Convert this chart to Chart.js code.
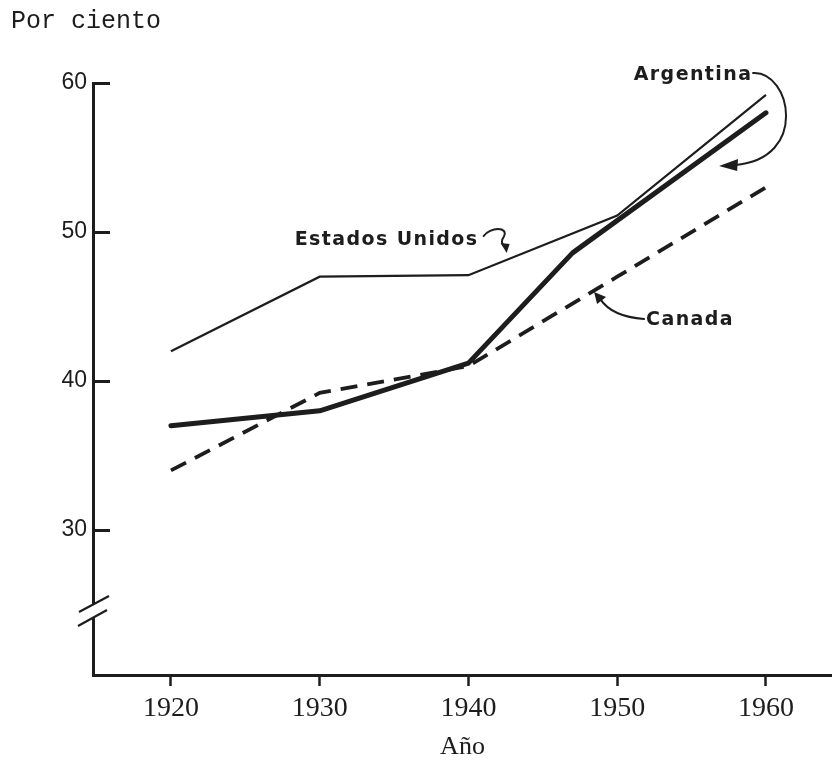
<!DOCTYPE html>
<html>
<head>
<meta charset="utf-8">
<script src="https://cdn.jsdelivr.net/npm/chart.js@4.4.1/dist/chart.umd.min.js"></script>
<style>
    body { margin: 0; background: #ffffff; }
    #chart-wrap { width: 832px; height: 764px; }
</style>
</head>
<body>
<div id="chart-wrap"><canvas id="urban-chart" width="832" height="764"></canvas></div>
<script>
// datos
const years = [1920, 1930, 1940, 1950, 1960];
const usValues = [42, 47, 47.1, 51.1, 59.2];
const canadaValues = [34, 39.2, 41, 47, 53];
const argentinaYears = [1920, 1930, 1940, 1947, 1960];
const argentinaValues = [37, 38, 41.2, 48.6, 58];
const xTicks = [1920, 1930, 1940, 1950, 1960];
const yTicks = [30, 40, 50, 60];

const vInk = '#1d1d1d';

function toPoints(paramX, paramY) {
    return paramX.map((x, i) => ({ x: x, y: paramY[i] }));
}

// flechas, rotulos y corte del eje
const decorPlugin = {
    id: 'decor',
    afterDraw(chart) {
        const ctx = chart.ctx;
        const xs = chart.scales.x;
        const ys = chart.scales.y;
        const px = (year, value) => [xs.getPixelForValue(year), ys.getPixelForValue(value)];

        ctx.save();
        ctx.fillStyle = vInk;
        ctx.strokeStyle = vInk;

        // titulo eje y
        ctx.font = '25px "Liberation Mono"';
        ctx.textAlign = 'left';
        ctx.textBaseline = 'alphabetic';
        ctx.fillText('Por ciento', 11, 28);

        // rotulos de las series
        ctx.font = 'bold 19px "DejaVu Sans"';
        ctx.letterSpacing = '1.4px';
        ctx.textAlign = 'center';
        ctx.textBaseline = 'middle';
        let a = px(1955.1, 60.54);
        ctx.fillText('Argentina', a[0], a[1]);
        let u = px(1934.5, 49.46);
        ctx.fillText('Estados Unidos', u[0], u[1]);
        let c = px(1954.9, 44.1);
        ctx.fillText('Canada', c[0], c[1]);
        ctx.letterSpacing = '0px';

        ctx.lineWidth = 2;
        ctx.lineCap = 'round';

        // flecha Argentina
        ctx.beginPath();
        ctx.moveTo(a[0] + 60, a[1] - 2);
        ctx.bezierCurveTo(a[0] + 98, a[1] - 4, a[0] + 116, a[1] + 84, a[0] + 42, a[1] + 90);
        ctx.stroke();
        ctx.beginPath();
        ctx.moveTo(a[0] + 26, a[1] + 91);
        ctx.lineTo(a[0] + 45, a[1] + 84);
        ctx.lineTo(a[0] + 44, a[1] + 96);
        ctx.closePath();
        ctx.fill();

        // flecha Estados Unidos
        ctx.beginPath();
        ctx.moveTo(u[0] + 97, u[1] - 4);
        ctx.bezierCurveTo(u[0] + 103, u[1] - 13, u[0] + 123, u[1] - 14, u[0] + 117, u[1] - 3);
        ctx.quadraticCurveTo(u[0] + 113, u[1] + 2, u[0] + 118, u[1] + 7);
        ctx.stroke();
        ctx.beginPath();
        ctx.moveTo(u[0] + 120, u[1] + 13);
        ctx.lineTo(u[0] + 114, u[1] + 3);
        ctx.lineTo(u[0] + 123, u[1] + 4);
        ctx.closePath();
        ctx.fill();

        // flecha Canada
        ctx.beginPath();
        ctx.moveTo(c[0] - 46, c[1] - 1);
        ctx.quadraticCurveTo(c[0] - 78, c[1] - 3, c[0] - 90, c[1] - 21);
        ctx.stroke();
        ctx.beginPath();
        ctx.moveTo(c[0] - 96, c[1] - 28);
        ctx.lineTo(c[0] - 84, c[1] - 23);
        ctx.lineTo(c[0] - 93, c[1] - 16);
        ctx.closePath();
        ctx.fill();

        // corte del eje y
        const bx = xs.left;
        const by = ys.getPixelForValue(24.56);
        ctx.fillStyle = '#ffffff';
        ctx.fillRect(bx - 3, by - 7, 6, 14);
        ctx.lineWidth = 2.2;
        ctx.lineCap = 'butt';
        ctx.beginPath();
        ctx.moveTo(bx - 14, by + 1);
        ctx.lineTo(bx + 16, by - 15);
        ctx.moveTo(bx - 15, by + 15);
        ctx.lineTo(bx + 14, by - 1);
        ctx.stroke();
        ctx.restore();
    },
};

const vLineData = {
    datasets: [
        {
            label: 'Estados Unidos',
            data: toPoints(years, usValues),
            borderColor: vInk,
            borderWidth: 2.2,
            pointRadius: 0,
            tension: 0,
        },
        {
            label: 'Argentina',
            data: toPoints(argentinaYears, argentinaValues),
            borderColor: vInk,
            borderWidth: 5,
            borderCapStyle: 'round',
            borderJoinStyle: 'round',
            pointRadius: 0,
            tension: 0,
        },
        {
            label: 'Canada',
            data: toPoints(years, canadaValues),
            borderColor: vInk,
            borderWidth: 3.8,
            borderDash: [17, 10],
            pointRadius: 0,
            tension: 0,
        },
    ],
};

const vOptions = {
    responsive: false,
    animation: false,
    devicePixelRatio: 1,
    layout: { padding: { top: 83, left: 0, right: 0, bottom: 0 } },
    plugins: {
        legend: { display: false },
        tooltip: { enabled: false },
    },
    scales: {
        x: {
            type: 'linear',
            position: 'bottom',
            min: 1914.76,
            max: 1964.44,
            afterBuildTicks: (scale) => {
                scale.ticks = xTicks.map((v) => ({ value: v }));
            },
            afterFit: (scale) => {
                scale.height = 89;
            },
            border: { display: true, width: 3, color: vInk },
            grid: {
                drawOnChartArea: false,
                drawTicks: true,
                tickLength: 11,
                tickWidth: 2.5,
                tickColor: vInk,
            },
            ticks: {
                autoSkip: false,
                maxRotation: 0,
                padding: 6,
                color: vInk,
                font: { family: '"Liberation Serif"', size: 28 },
                callback: (v) => String(v),
            },
            title: {
                display: true,
                text: 'Año',
                color: vInk,
                font: { family: '"Liberation Serif"', size: 26 },
                padding: { top: 0, bottom: 1 },
            },
        },
        y: {
            type: 'linear',
            position: 'left',
            min: 20.27,
            max: 60,
            afterBuildTicks: (scale) => {
                scale.ticks = yTicks.map((v) => ({ value: v }));
            },
            afterFit: (scale) => {
                scale.width = 93;
            },
            border: { display: true, width: 3, color: vInk },
            grid: {
                drawOnChartArea: false,
                drawTicks: true,
                tickLength: -17,
                tickWidth: 3,
                tickColor: vInk,
            },
            ticks: {
                padding: 23,
                color: vInk,
                font: { family: '"Liberation Sans"', size: 23 },
                callback: (v) => String(v),
            },
        },
    },
};

new Chart(document.getElementById('urban-chart').getContext('2d'), {
    type: 'line',
    data: vLineData,
    options: vOptions,
    plugins: [decorPlugin],
});
</script>
</body>
</html>
